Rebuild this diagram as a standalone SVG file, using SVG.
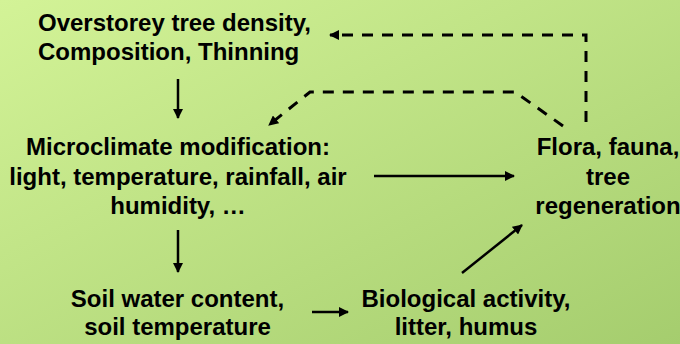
<svg xmlns="http://www.w3.org/2000/svg" width="680" height="344" viewBox="0 0 680 344">
  <defs>
    <linearGradient id="bg" x1="0" y1="0" x2="1" y2="1">
      <stop offset="0" stop-color="#d3f397"/>
      <stop offset="1" stop-color="#a5cd6e"/>
    </linearGradient>
    <marker id="ah" viewBox="0 0 10 10" refX="9" refY="5" markerWidth="10" markerHeight="10" markerUnits="userSpaceOnUse" orient="auto">
      <path d="M0,0 L10,5 L0,10 z" fill="#000"/>
    </marker>
  </defs>
  <style>
    text { font-family: "Liberation Sans", Arial, sans-serif; font-weight: bold; font-size: 24px; fill: #000; }
    .c { text-anchor: middle; }
    .solid { fill: none; stroke: #000; stroke-width: 2.5; }
    .dash { fill: none; stroke: #000; stroke-width: 3; stroke-dasharray: 11 9; }
  </style>
  <rect x="0" y="0" width="680" height="344" fill="url(#bg)"/>

  <g id="overstorey">
    <text x="38" y="31">Overstorey tree density,</text>
    <text x="38" y="60">Composition, Thinning</text>
  </g>
  <g id="microclimate">
    <text class="c" x="178" y="155">Microclimate modification:</text>
    <text class="c" x="178" y="184.5">light, temperature, rainfall, air</text>
    <text class="c" x="178" y="214">humidity, …</text>
  </g>
  <g id="soil">
    <text class="c" x="177.5" y="307">Soil water content,</text>
    <text class="c" x="177.5" y="335">soil temperature</text>
  </g>
  <g id="biological">
    <text class="c" x="466" y="307">Biological activity,</text>
    <text class="c" x="466" y="335">litter, humus</text>
  </g>
  <g id="flora">
    <text class="c" x="608" y="155">Flora, fauna,</text>
    <text class="c" x="608" y="185">tree</text>
    <text class="c" x="608" y="214">regeneration</text>
  </g>

  <g id="connectors">
    <line class="solid" x1="178" y1="79" x2="178" y2="118" marker-end="url(#ah)"/>
    <line class="solid" x1="178" y1="230" x2="178" y2="272" marker-end="url(#ah)"/>
    <line class="solid" x1="374" y1="176" x2="514" y2="176" marker-end="url(#ah)"/>
    <line class="solid" x1="312" y1="312" x2="348" y2="312" marker-end="url(#ah)"/>
    <line class="solid" x1="462" y1="273" x2="522" y2="225" marker-end="url(#ah)"/>
    <path class="dash" d="M586,122 L586,35 L330,35" marker-end="url(#ah)"/>
    <path class="dash" d="M563,126 L515,92 L310,92 L269,125" marker-end="url(#ah)"/>
  </g>
</svg>
